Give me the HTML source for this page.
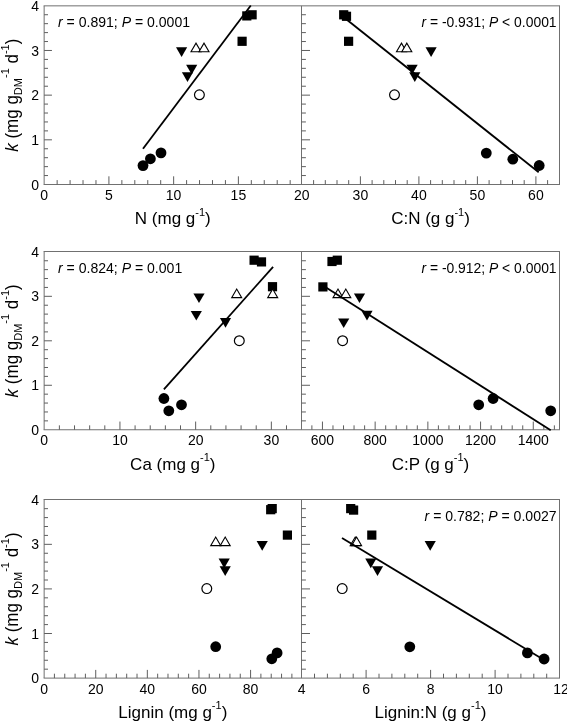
<!DOCTYPE html>
<html lang="en"><head><meta charset="utf-8"><title>Figure</title>
<style>html,body{margin:0;padding:0;background:#fff}svg{display:block}</style></head>
<body>
<svg width="567" height="723" viewBox="0 0 567 723" font-family="Liberation Sans, sans-serif" fill="#000">
<rect width="567" height="723" fill="#fff"/>
<g>
<line x1="43.65" y1="5.85" x2="560.00" y2="5.85" stroke="#707070" stroke-width="1"/>
<line x1="43.65" y1="184.50" x2="560.00" y2="184.50" stroke="#707070" stroke-width="1"/>
<line x1="44.15" y1="5.85" x2="44.15" y2="184.50" stroke="#707070" stroke-width="1"/>
<line x1="301.50" y1="5.85" x2="301.50" y2="184.50" stroke="#707070" stroke-width="1"/>
<line x1="559.50" y1="5.85" x2="559.50" y2="184.50" stroke="#707070" stroke-width="1"/>
<line x1="44.15" y1="175.56" x2="48.00" y2="175.56" stroke="#5e5e5e" stroke-width="1"/>
<line x1="44.15" y1="166.63" x2="48.00" y2="166.63" stroke="#5e5e5e" stroke-width="1"/>
<line x1="44.15" y1="157.69" x2="48.00" y2="157.69" stroke="#5e5e5e" stroke-width="1"/>
<line x1="44.15" y1="148.76" x2="48.00" y2="148.76" stroke="#5e5e5e" stroke-width="1"/>
<line x1="44.15" y1="139.82" x2="51.95" y2="139.82" stroke="#5e5e5e" stroke-width="1"/>
<line x1="44.15" y1="130.89" x2="48.00" y2="130.89" stroke="#5e5e5e" stroke-width="1"/>
<line x1="44.15" y1="121.95" x2="48.00" y2="121.95" stroke="#5e5e5e" stroke-width="1"/>
<line x1="44.15" y1="113.02" x2="48.00" y2="113.02" stroke="#5e5e5e" stroke-width="1"/>
<line x1="44.15" y1="104.09" x2="48.00" y2="104.09" stroke="#5e5e5e" stroke-width="1"/>
<line x1="44.15" y1="95.15" x2="51.95" y2="95.15" stroke="#5e5e5e" stroke-width="1"/>
<line x1="44.15" y1="86.22" x2="48.00" y2="86.22" stroke="#5e5e5e" stroke-width="1"/>
<line x1="44.15" y1="77.28" x2="48.00" y2="77.28" stroke="#5e5e5e" stroke-width="1"/>
<line x1="44.15" y1="68.34" x2="48.00" y2="68.34" stroke="#5e5e5e" stroke-width="1"/>
<line x1="44.15" y1="59.41" x2="48.00" y2="59.41" stroke="#5e5e5e" stroke-width="1"/>
<line x1="44.15" y1="50.48" x2="51.95" y2="50.48" stroke="#5e5e5e" stroke-width="1"/>
<line x1="44.15" y1="41.54" x2="48.00" y2="41.54" stroke="#5e5e5e" stroke-width="1"/>
<line x1="44.15" y1="32.60" x2="48.00" y2="32.60" stroke="#5e5e5e" stroke-width="1"/>
<line x1="44.15" y1="23.67" x2="48.00" y2="23.67" stroke="#5e5e5e" stroke-width="1"/>
<line x1="44.15" y1="14.73" x2="48.00" y2="14.73" stroke="#5e5e5e" stroke-width="1"/>
<line x1="301.50" y1="175.56" x2="305.90" y2="175.56" stroke="#5e5e5e" stroke-width="1"/>
<line x1="301.50" y1="166.63" x2="305.90" y2="166.63" stroke="#5e5e5e" stroke-width="1"/>
<line x1="301.50" y1="157.69" x2="305.90" y2="157.69" stroke="#5e5e5e" stroke-width="1"/>
<line x1="301.50" y1="148.76" x2="305.90" y2="148.76" stroke="#5e5e5e" stroke-width="1"/>
<line x1="301.50" y1="139.82" x2="310.00" y2="139.82" stroke="#5e5e5e" stroke-width="1"/>
<line x1="301.50" y1="130.89" x2="305.90" y2="130.89" stroke="#5e5e5e" stroke-width="1"/>
<line x1="301.50" y1="121.95" x2="305.90" y2="121.95" stroke="#5e5e5e" stroke-width="1"/>
<line x1="301.50" y1="113.02" x2="305.90" y2="113.02" stroke="#5e5e5e" stroke-width="1"/>
<line x1="301.50" y1="104.09" x2="305.90" y2="104.09" stroke="#5e5e5e" stroke-width="1"/>
<line x1="301.50" y1="95.15" x2="310.00" y2="95.15" stroke="#5e5e5e" stroke-width="1"/>
<line x1="301.50" y1="86.22" x2="305.90" y2="86.22" stroke="#5e5e5e" stroke-width="1"/>
<line x1="301.50" y1="77.28" x2="305.90" y2="77.28" stroke="#5e5e5e" stroke-width="1"/>
<line x1="301.50" y1="68.34" x2="305.90" y2="68.34" stroke="#5e5e5e" stroke-width="1"/>
<line x1="301.50" y1="59.41" x2="305.90" y2="59.41" stroke="#5e5e5e" stroke-width="1"/>
<line x1="301.50" y1="50.48" x2="310.00" y2="50.48" stroke="#5e5e5e" stroke-width="1"/>
<line x1="301.50" y1="41.54" x2="305.90" y2="41.54" stroke="#5e5e5e" stroke-width="1"/>
<line x1="301.50" y1="32.60" x2="305.90" y2="32.60" stroke="#5e5e5e" stroke-width="1"/>
<line x1="301.50" y1="23.67" x2="305.90" y2="23.67" stroke="#5e5e5e" stroke-width="1"/>
<line x1="301.50" y1="14.73" x2="305.90" y2="14.73" stroke="#5e5e5e" stroke-width="1"/>
<line x1="57.15" y1="184.50" x2="57.15" y2="180.10" stroke="#5e5e5e" stroke-width="1"/>
<line x1="70.09" y1="184.50" x2="70.09" y2="180.10" stroke="#5e5e5e" stroke-width="1"/>
<line x1="83.03" y1="184.50" x2="83.03" y2="180.10" stroke="#5e5e5e" stroke-width="1"/>
<line x1="95.98" y1="184.50" x2="95.98" y2="180.10" stroke="#5e5e5e" stroke-width="1"/>
<line x1="108.92" y1="184.50" x2="108.92" y2="176.30" stroke="#5e5e5e" stroke-width="1"/>
<line x1="121.87" y1="184.50" x2="121.87" y2="180.10" stroke="#5e5e5e" stroke-width="1"/>
<line x1="134.81" y1="184.50" x2="134.81" y2="180.10" stroke="#5e5e5e" stroke-width="1"/>
<line x1="147.76" y1="184.50" x2="147.76" y2="180.10" stroke="#5e5e5e" stroke-width="1"/>
<line x1="160.70" y1="184.50" x2="160.70" y2="180.10" stroke="#5e5e5e" stroke-width="1"/>
<line x1="173.65" y1="184.50" x2="173.65" y2="176.30" stroke="#5e5e5e" stroke-width="1"/>
<line x1="186.60" y1="184.50" x2="186.60" y2="180.10" stroke="#5e5e5e" stroke-width="1"/>
<line x1="199.54" y1="184.50" x2="199.54" y2="180.10" stroke="#5e5e5e" stroke-width="1"/>
<line x1="212.49" y1="184.50" x2="212.49" y2="180.10" stroke="#5e5e5e" stroke-width="1"/>
<line x1="225.43" y1="184.50" x2="225.43" y2="180.10" stroke="#5e5e5e" stroke-width="1"/>
<line x1="238.38" y1="184.50" x2="238.38" y2="176.30" stroke="#5e5e5e" stroke-width="1"/>
<line x1="251.32" y1="184.50" x2="251.32" y2="180.10" stroke="#5e5e5e" stroke-width="1"/>
<line x1="264.26" y1="184.50" x2="264.26" y2="180.10" stroke="#5e5e5e" stroke-width="1"/>
<line x1="277.21" y1="184.50" x2="277.21" y2="180.10" stroke="#5e5e5e" stroke-width="1"/>
<line x1="290.16" y1="184.50" x2="290.16" y2="180.10" stroke="#5e5e5e" stroke-width="1"/>
<line x1="313.60" y1="184.50" x2="313.60" y2="180.10" stroke="#5e5e5e" stroke-width="1"/>
<line x1="325.30" y1="184.50" x2="325.30" y2="180.10" stroke="#5e5e5e" stroke-width="1"/>
<line x1="337.00" y1="184.50" x2="337.00" y2="180.10" stroke="#5e5e5e" stroke-width="1"/>
<line x1="348.70" y1="184.50" x2="348.70" y2="180.10" stroke="#5e5e5e" stroke-width="1"/>
<line x1="360.40" y1="184.50" x2="360.40" y2="176.30" stroke="#5e5e5e" stroke-width="1"/>
<line x1="372.10" y1="184.50" x2="372.10" y2="180.10" stroke="#5e5e5e" stroke-width="1"/>
<line x1="383.80" y1="184.50" x2="383.80" y2="180.10" stroke="#5e5e5e" stroke-width="1"/>
<line x1="395.50" y1="184.50" x2="395.50" y2="180.10" stroke="#5e5e5e" stroke-width="1"/>
<line x1="407.20" y1="184.50" x2="407.20" y2="180.10" stroke="#5e5e5e" stroke-width="1"/>
<line x1="418.90" y1="184.50" x2="418.90" y2="176.30" stroke="#5e5e5e" stroke-width="1"/>
<line x1="430.60" y1="184.50" x2="430.60" y2="180.10" stroke="#5e5e5e" stroke-width="1"/>
<line x1="442.30" y1="184.50" x2="442.30" y2="180.10" stroke="#5e5e5e" stroke-width="1"/>
<line x1="454.00" y1="184.50" x2="454.00" y2="180.10" stroke="#5e5e5e" stroke-width="1"/>
<line x1="465.70" y1="184.50" x2="465.70" y2="180.10" stroke="#5e5e5e" stroke-width="1"/>
<line x1="477.40" y1="184.50" x2="477.40" y2="176.30" stroke="#5e5e5e" stroke-width="1"/>
<line x1="489.10" y1="184.50" x2="489.10" y2="180.10" stroke="#5e5e5e" stroke-width="1"/>
<line x1="500.80" y1="184.50" x2="500.80" y2="180.10" stroke="#5e5e5e" stroke-width="1"/>
<line x1="512.50" y1="184.50" x2="512.50" y2="180.10" stroke="#5e5e5e" stroke-width="1"/>
<line x1="524.20" y1="184.50" x2="524.20" y2="180.10" stroke="#5e5e5e" stroke-width="1"/>
<line x1="535.90" y1="184.50" x2="535.90" y2="176.30" stroke="#5e5e5e" stroke-width="1"/>
<line x1="547.60" y1="184.50" x2="547.60" y2="180.10" stroke="#5e5e5e" stroke-width="1"/>
</g>
<text x="44.2" y="199.5" font-size="14" text-anchor="middle">0</text>
<text x="108.9" y="199.5" font-size="14" text-anchor="middle">5</text>
<text x="173.6" y="199.5" font-size="14" text-anchor="middle">10</text>
<text x="238.4" y="199.5" font-size="14" text-anchor="middle">15</text>
<text x="301.7" y="199.5" font-size="14" text-anchor="middle">20</text>
<text x="360.4" y="199.5" font-size="14" text-anchor="middle">30</text>
<text x="418.9" y="199.5" font-size="14" text-anchor="middle">40</text>
<text x="477.4" y="199.5" font-size="14" text-anchor="middle">50</text>
<text x="535.9" y="199.5" font-size="14" text-anchor="middle">60</text>
<text x="39.1" y="189.6" font-size="14" text-anchor="end">0</text>
<text x="39.1" y="144.9" font-size="14" text-anchor="end">1</text>
<text x="39.1" y="100.2" font-size="14" text-anchor="end">2</text>
<text x="39.1" y="55.6" font-size="14" text-anchor="end">3</text>
<text x="39.1" y="10.9" font-size="14" text-anchor="end">4</text>
<text transform="translate(17.6,95.2) rotate(-90) scale(1,1.04)" font-size="17" text-anchor="middle"><tspan font-style="italic">k</tspan> (mg g<tspan font-size="11" dy="4.5">DM</tspan><tspan font-size="11" dy="-12.6">-1</tspan><tspan dy="8.1"> d</tspan><tspan font-size="11" dy="-8.1">-1</tspan><tspan dy="8.1">)</tspan></text>
<text x="172.8" y="224.4" font-size="17" text-anchor="middle">N (mg g<tspan font-size="11" dy="-8.8">-1</tspan><tspan dy="8.8">)</tspan></text>
<text x="430.5" y="224.4" font-size="17" text-anchor="middle">C:N (g g<tspan font-size="11" dy="-8.8">-1</tspan><tspan dy="8.8">)</tspan></text>
<text x="58" y="26.7" font-size="14.05"><tspan font-style="italic">r</tspan> = 0.891; <tspan font-style="italic">P</tspan> = 0.0001</text>
<text x="556.6" y="26.7" font-size="13.9" text-anchor="end"><tspan font-style="italic">r</tspan> = -0.931; <tspan font-style="italic">P</tspan> &lt; 0.0001</text>
<circle cx="143" cy="165.6" r="5.4"/>
<circle cx="150.4" cy="158.8" r="5.4"/>
<circle cx="161" cy="152.9" r="5.4"/>
<rect x="242.2" y="11.3" width="9.2" height="9.2"/>
<rect x="247.5" y="10.2" width="9.2" height="9.2"/>
<rect x="237.5" y="36.7" width="9.2" height="9.2"/>
<path d="M176.0 47.3h11.2l-5.6 9.7z"/>
<path d="M186.1 64.7h11.2l-5.6 9.7z"/>
<path d="M181.9 72.2h11.2l-5.6 9.7z"/>
<circle cx="199.4" cy="94.8" r="4.9" fill="#fff" stroke="#000" stroke-width="1.2"/>
<path d="M191.0 51.8h10l-5 -8.6z" fill="#fff" stroke="#000" stroke-width="1.1" stroke-linejoin="miter"/>
<path d="M199.0 51.8h10l-5 -8.6z" fill="#fff" stroke="#000" stroke-width="1.1" stroke-linejoin="miter"/>
<line x1="143" y1="148.8" x2="250.8" y2="5.5" stroke="#000" stroke-width="1.8"/>
<circle cx="486.3" cy="153.1" r="5.4"/>
<circle cx="512.8" cy="159.2" r="5.4"/>
<circle cx="539.2" cy="165.5" r="5.4"/>
<rect x="339.1" y="10.2" width="9.2" height="9.2"/>
<rect x="341.9" y="11.7" width="9.2" height="9.2"/>
<rect x="344.0" y="36.7" width="9.2" height="9.2"/>
<path d="M425.5 47.3h11.2l-5.6 9.7z"/>
<path d="M406.5 64.7h11.2l-5.6 9.7z"/>
<path d="M409.2 72.3h11.2l-5.6 9.7z"/>
<circle cx="394.5" cy="94.8" r="4.9" fill="#fff" stroke="#000" stroke-width="1.2"/>
<path d="M396.5 51.8h10l-5 -8.6z" fill="#fff" stroke="#000" stroke-width="1.1" stroke-linejoin="miter"/>
<path d="M401.8 51.8h10l-5 -8.6z" fill="#fff" stroke="#000" stroke-width="1.1" stroke-linejoin="miter"/>
<line x1="345" y1="18.3" x2="538.7" y2="172.3" stroke="#000" stroke-width="1.8"/>
<g>
<line x1="43.65" y1="251.50" x2="560.00" y2="251.50" stroke="#707070" stroke-width="1"/>
<line x1="43.65" y1="429.75" x2="560.00" y2="429.75" stroke="#707070" stroke-width="1"/>
<line x1="44.15" y1="251.50" x2="44.15" y2="429.75" stroke="#707070" stroke-width="1"/>
<line x1="301.50" y1="251.50" x2="301.50" y2="429.75" stroke="#707070" stroke-width="1"/>
<line x1="559.50" y1="251.50" x2="559.50" y2="429.75" stroke="#707070" stroke-width="1"/>
<line x1="44.15" y1="420.86" x2="48.00" y2="420.86" stroke="#5e5e5e" stroke-width="1"/>
<line x1="44.15" y1="411.96" x2="48.00" y2="411.96" stroke="#5e5e5e" stroke-width="1"/>
<line x1="44.15" y1="403.06" x2="48.00" y2="403.06" stroke="#5e5e5e" stroke-width="1"/>
<line x1="44.15" y1="394.17" x2="48.00" y2="394.17" stroke="#5e5e5e" stroke-width="1"/>
<line x1="44.15" y1="385.27" x2="51.95" y2="385.27" stroke="#5e5e5e" stroke-width="1"/>
<line x1="44.15" y1="376.38" x2="48.00" y2="376.38" stroke="#5e5e5e" stroke-width="1"/>
<line x1="44.15" y1="367.49" x2="48.00" y2="367.49" stroke="#5e5e5e" stroke-width="1"/>
<line x1="44.15" y1="358.59" x2="48.00" y2="358.59" stroke="#5e5e5e" stroke-width="1"/>
<line x1="44.15" y1="349.69" x2="48.00" y2="349.69" stroke="#5e5e5e" stroke-width="1"/>
<line x1="44.15" y1="340.80" x2="51.95" y2="340.80" stroke="#5e5e5e" stroke-width="1"/>
<line x1="44.15" y1="331.90" x2="48.00" y2="331.90" stroke="#5e5e5e" stroke-width="1"/>
<line x1="44.15" y1="323.01" x2="48.00" y2="323.01" stroke="#5e5e5e" stroke-width="1"/>
<line x1="44.15" y1="314.12" x2="48.00" y2="314.12" stroke="#5e5e5e" stroke-width="1"/>
<line x1="44.15" y1="305.22" x2="48.00" y2="305.22" stroke="#5e5e5e" stroke-width="1"/>
<line x1="44.15" y1="296.32" x2="51.95" y2="296.32" stroke="#5e5e5e" stroke-width="1"/>
<line x1="44.15" y1="287.43" x2="48.00" y2="287.43" stroke="#5e5e5e" stroke-width="1"/>
<line x1="44.15" y1="278.53" x2="48.00" y2="278.53" stroke="#5e5e5e" stroke-width="1"/>
<line x1="44.15" y1="269.64" x2="48.00" y2="269.64" stroke="#5e5e5e" stroke-width="1"/>
<line x1="44.15" y1="260.75" x2="48.00" y2="260.75" stroke="#5e5e5e" stroke-width="1"/>
<line x1="301.50" y1="420.86" x2="305.90" y2="420.86" stroke="#5e5e5e" stroke-width="1"/>
<line x1="301.50" y1="411.96" x2="305.90" y2="411.96" stroke="#5e5e5e" stroke-width="1"/>
<line x1="301.50" y1="403.06" x2="305.90" y2="403.06" stroke="#5e5e5e" stroke-width="1"/>
<line x1="301.50" y1="394.17" x2="305.90" y2="394.17" stroke="#5e5e5e" stroke-width="1"/>
<line x1="301.50" y1="385.27" x2="310.00" y2="385.27" stroke="#5e5e5e" stroke-width="1"/>
<line x1="301.50" y1="376.38" x2="305.90" y2="376.38" stroke="#5e5e5e" stroke-width="1"/>
<line x1="301.50" y1="367.49" x2="305.90" y2="367.49" stroke="#5e5e5e" stroke-width="1"/>
<line x1="301.50" y1="358.59" x2="305.90" y2="358.59" stroke="#5e5e5e" stroke-width="1"/>
<line x1="301.50" y1="349.69" x2="305.90" y2="349.69" stroke="#5e5e5e" stroke-width="1"/>
<line x1="301.50" y1="340.80" x2="310.00" y2="340.80" stroke="#5e5e5e" stroke-width="1"/>
<line x1="301.50" y1="331.90" x2="305.90" y2="331.90" stroke="#5e5e5e" stroke-width="1"/>
<line x1="301.50" y1="323.01" x2="305.90" y2="323.01" stroke="#5e5e5e" stroke-width="1"/>
<line x1="301.50" y1="314.12" x2="305.90" y2="314.12" stroke="#5e5e5e" stroke-width="1"/>
<line x1="301.50" y1="305.22" x2="305.90" y2="305.22" stroke="#5e5e5e" stroke-width="1"/>
<line x1="301.50" y1="296.32" x2="310.00" y2="296.32" stroke="#5e5e5e" stroke-width="1"/>
<line x1="301.50" y1="287.43" x2="305.90" y2="287.43" stroke="#5e5e5e" stroke-width="1"/>
<line x1="301.50" y1="278.53" x2="305.90" y2="278.53" stroke="#5e5e5e" stroke-width="1"/>
<line x1="301.50" y1="269.64" x2="305.90" y2="269.64" stroke="#5e5e5e" stroke-width="1"/>
<line x1="301.50" y1="260.75" x2="305.90" y2="260.75" stroke="#5e5e5e" stroke-width="1"/>
<line x1="59.39" y1="429.75" x2="59.39" y2="425.35" stroke="#5e5e5e" stroke-width="1"/>
<line x1="74.53" y1="429.75" x2="74.53" y2="425.35" stroke="#5e5e5e" stroke-width="1"/>
<line x1="89.67" y1="429.75" x2="89.67" y2="425.35" stroke="#5e5e5e" stroke-width="1"/>
<line x1="104.81" y1="429.75" x2="104.81" y2="425.35" stroke="#5e5e5e" stroke-width="1"/>
<line x1="119.95" y1="429.75" x2="119.95" y2="421.55" stroke="#5e5e5e" stroke-width="1"/>
<line x1="135.09" y1="429.75" x2="135.09" y2="425.35" stroke="#5e5e5e" stroke-width="1"/>
<line x1="150.23" y1="429.75" x2="150.23" y2="425.35" stroke="#5e5e5e" stroke-width="1"/>
<line x1="165.37" y1="429.75" x2="165.37" y2="425.35" stroke="#5e5e5e" stroke-width="1"/>
<line x1="180.51" y1="429.75" x2="180.51" y2="425.35" stroke="#5e5e5e" stroke-width="1"/>
<line x1="195.65" y1="429.75" x2="195.65" y2="421.55" stroke="#5e5e5e" stroke-width="1"/>
<line x1="210.79" y1="429.75" x2="210.79" y2="425.35" stroke="#5e5e5e" stroke-width="1"/>
<line x1="225.93" y1="429.75" x2="225.93" y2="425.35" stroke="#5e5e5e" stroke-width="1"/>
<line x1="241.07" y1="429.75" x2="241.07" y2="425.35" stroke="#5e5e5e" stroke-width="1"/>
<line x1="256.21" y1="429.75" x2="256.21" y2="425.35" stroke="#5e5e5e" stroke-width="1"/>
<line x1="271.35" y1="429.75" x2="271.35" y2="421.55" stroke="#5e5e5e" stroke-width="1"/>
<line x1="286.49" y1="429.75" x2="286.49" y2="425.35" stroke="#5e5e5e" stroke-width="1"/>
<line x1="311.89" y1="429.75" x2="311.89" y2="425.35" stroke="#5e5e5e" stroke-width="1"/>
<line x1="322.44" y1="429.75" x2="322.44" y2="421.55" stroke="#5e5e5e" stroke-width="1"/>
<line x1="332.98" y1="429.75" x2="332.98" y2="425.35" stroke="#5e5e5e" stroke-width="1"/>
<line x1="343.52" y1="429.75" x2="343.52" y2="425.35" stroke="#5e5e5e" stroke-width="1"/>
<line x1="354.06" y1="429.75" x2="354.06" y2="425.35" stroke="#5e5e5e" stroke-width="1"/>
<line x1="364.61" y1="429.75" x2="364.61" y2="425.35" stroke="#5e5e5e" stroke-width="1"/>
<line x1="375.15" y1="429.75" x2="375.15" y2="421.55" stroke="#5e5e5e" stroke-width="1"/>
<line x1="385.69" y1="429.75" x2="385.69" y2="425.35" stroke="#5e5e5e" stroke-width="1"/>
<line x1="396.23" y1="429.75" x2="396.23" y2="425.35" stroke="#5e5e5e" stroke-width="1"/>
<line x1="406.78" y1="429.75" x2="406.78" y2="425.35" stroke="#5e5e5e" stroke-width="1"/>
<line x1="417.32" y1="429.75" x2="417.32" y2="425.35" stroke="#5e5e5e" stroke-width="1"/>
<line x1="427.86" y1="429.75" x2="427.86" y2="421.55" stroke="#5e5e5e" stroke-width="1"/>
<line x1="438.40" y1="429.75" x2="438.40" y2="425.35" stroke="#5e5e5e" stroke-width="1"/>
<line x1="448.94" y1="429.75" x2="448.94" y2="425.35" stroke="#5e5e5e" stroke-width="1"/>
<line x1="459.49" y1="429.75" x2="459.49" y2="425.35" stroke="#5e5e5e" stroke-width="1"/>
<line x1="470.03" y1="429.75" x2="470.03" y2="425.35" stroke="#5e5e5e" stroke-width="1"/>
<line x1="480.57" y1="429.75" x2="480.57" y2="421.55" stroke="#5e5e5e" stroke-width="1"/>
<line x1="491.11" y1="429.75" x2="491.11" y2="425.35" stroke="#5e5e5e" stroke-width="1"/>
<line x1="501.66" y1="429.75" x2="501.66" y2="425.35" stroke="#5e5e5e" stroke-width="1"/>
<line x1="512.20" y1="429.75" x2="512.20" y2="425.35" stroke="#5e5e5e" stroke-width="1"/>
<line x1="522.74" y1="429.75" x2="522.74" y2="425.35" stroke="#5e5e5e" stroke-width="1"/>
<line x1="533.28" y1="429.75" x2="533.28" y2="421.55" stroke="#5e5e5e" stroke-width="1"/>
<line x1="543.83" y1="429.75" x2="543.83" y2="425.35" stroke="#5e5e5e" stroke-width="1"/>
<line x1="554.37" y1="429.75" x2="554.37" y2="425.35" stroke="#5e5e5e" stroke-width="1"/>
</g>
<text x="44.2" y="445.4" font-size="14" text-anchor="middle">0</text>
<text x="120.0" y="445.4" font-size="14" text-anchor="middle">10</text>
<text x="195.7" y="445.4" font-size="14" text-anchor="middle">20</text>
<text x="271.4" y="445.4" font-size="14" text-anchor="middle">30</text>
<text x="322.4" y="445.4" font-size="14" text-anchor="middle">600</text>
<text x="375.1" y="445.4" font-size="14" text-anchor="middle">800</text>
<text x="427.9" y="445.4" font-size="14" text-anchor="middle">1000</text>
<text x="480.6" y="445.4" font-size="14" text-anchor="middle">1200</text>
<text x="533.3" y="445.4" font-size="14" text-anchor="middle">1400</text>
<text x="39.1" y="434.9" font-size="14" text-anchor="end">0</text>
<text x="39.1" y="390.4" font-size="14" text-anchor="end">1</text>
<text x="39.1" y="345.9" font-size="14" text-anchor="end">2</text>
<text x="39.1" y="301.4" font-size="14" text-anchor="end">3</text>
<text x="39.1" y="256.9" font-size="14" text-anchor="end">4</text>
<text transform="translate(17.6,340.8) rotate(-90) scale(1,1.04)" font-size="17" text-anchor="middle"><tspan font-style="italic">k</tspan> (mg g<tspan font-size="11" dy="4.5">DM</tspan><tspan font-size="11" dy="-12.6">-1</tspan><tspan dy="8.1"> d</tspan><tspan font-size="11" dy="-8.1">-1</tspan><tspan dy="8.1">)</tspan></text>
<text x="172.8" y="469.6" font-size="17" text-anchor="middle">Ca (mg g<tspan font-size="11" dy="-8.8">-1</tspan><tspan dy="8.8">)</tspan></text>
<text x="430.5" y="469.6" font-size="17" text-anchor="middle">C:P (g g<tspan font-size="11" dy="-8.8">-1</tspan><tspan dy="8.8">)</tspan></text>
<text x="58" y="272.7" font-size="14.05"><tspan font-style="italic">r</tspan> = 0.824; <tspan font-style="italic">P</tspan> = 0.001</text>
<text x="556.6" y="272.7" font-size="13.9" text-anchor="end"><tspan font-style="italic">r</tspan> = -0.912; <tspan font-style="italic">P</tspan> &lt; 0.0001</text>
<circle cx="163.9" cy="398.5" r="5.4"/>
<circle cx="168.8" cy="410.8" r="5.4"/>
<circle cx="181.5" cy="404.8" r="5.4"/>
<rect x="249.5" y="255.6" width="9.2" height="9.2"/>
<rect x="256.9" y="257.3" width="9.2" height="9.2"/>
<rect x="267.9" y="282.1" width="9.2" height="9.2"/>
<path d="M193.4 293.4h11.2l-5.6 9.7z"/>
<path d="M190.7 310.9h11.2l-5.6 9.7z"/>
<path d="M219.9 318.1h11.2l-5.6 9.7z"/>
<circle cx="239.3" cy="340.7" r="4.9" fill="#fff" stroke="#000" stroke-width="1.2"/>
<path d="M231.7 297.6h10l-5 -8.6z" fill="#fff" stroke="#000" stroke-width="1.1" stroke-linejoin="miter"/>
<path d="M267.7 297.6h10l-5 -8.6z" fill="#fff" stroke="#000" stroke-width="1.1" stroke-linejoin="miter"/>
<line x1="163.9" y1="389.4" x2="273.1" y2="266.8" stroke="#000" stroke-width="1.8"/>
<circle cx="478.7" cy="404.8" r="5.4"/>
<circle cx="493.1" cy="398.5" r="5.4"/>
<circle cx="550.7" cy="410.8" r="5.4"/>
<rect x="327.4" y="256.9" width="9.2" height="9.2"/>
<rect x="332.7" y="255.6" width="9.2" height="9.2"/>
<rect x="318.3" y="282.3" width="9.2" height="9.2"/>
<path d="M353.9 293.4h11.2l-5.6 9.7z"/>
<path d="M361.4 310.7h11.2l-5.6 9.7z"/>
<path d="M338.1 318.4h11.2l-5.6 9.7z"/>
<circle cx="342.6" cy="340.7" r="4.9" fill="#fff" stroke="#000" stroke-width="1.2"/>
<path d="M333.0 297.6h10l-5 -8.6z" fill="#fff" stroke="#000" stroke-width="1.1" stroke-linejoin="miter"/>
<path d="M340.8 297.6h10l-5 -8.6z" fill="#fff" stroke="#000" stroke-width="1.1" stroke-linejoin="miter"/>
<line x1="322.9" y1="285.5" x2="550.7" y2="430.2" stroke="#000" stroke-width="1.8"/>
<g>
<line x1="43.65" y1="499.50" x2="560.00" y2="499.50" stroke="#707070" stroke-width="1"/>
<line x1="43.65" y1="678.10" x2="560.00" y2="678.10" stroke="#707070" stroke-width="1"/>
<line x1="44.15" y1="499.50" x2="44.15" y2="678.10" stroke="#707070" stroke-width="1"/>
<line x1="301.50" y1="499.50" x2="301.50" y2="678.10" stroke="#707070" stroke-width="1"/>
<line x1="559.50" y1="499.50" x2="559.50" y2="678.10" stroke="#707070" stroke-width="1"/>
<line x1="44.15" y1="669.18" x2="48.00" y2="669.18" stroke="#5e5e5e" stroke-width="1"/>
<line x1="44.15" y1="660.26" x2="48.00" y2="660.26" stroke="#5e5e5e" stroke-width="1"/>
<line x1="44.15" y1="651.35" x2="48.00" y2="651.35" stroke="#5e5e5e" stroke-width="1"/>
<line x1="44.15" y1="642.43" x2="48.00" y2="642.43" stroke="#5e5e5e" stroke-width="1"/>
<line x1="44.15" y1="633.51" x2="51.95" y2="633.51" stroke="#5e5e5e" stroke-width="1"/>
<line x1="44.15" y1="624.60" x2="48.00" y2="624.60" stroke="#5e5e5e" stroke-width="1"/>
<line x1="44.15" y1="615.68" x2="48.00" y2="615.68" stroke="#5e5e5e" stroke-width="1"/>
<line x1="44.15" y1="606.76" x2="48.00" y2="606.76" stroke="#5e5e5e" stroke-width="1"/>
<line x1="44.15" y1="597.84" x2="48.00" y2="597.84" stroke="#5e5e5e" stroke-width="1"/>
<line x1="44.15" y1="588.92" x2="51.95" y2="588.92" stroke="#5e5e5e" stroke-width="1"/>
<line x1="44.15" y1="580.01" x2="48.00" y2="580.01" stroke="#5e5e5e" stroke-width="1"/>
<line x1="44.15" y1="571.09" x2="48.00" y2="571.09" stroke="#5e5e5e" stroke-width="1"/>
<line x1="44.15" y1="562.17" x2="48.00" y2="562.17" stroke="#5e5e5e" stroke-width="1"/>
<line x1="44.15" y1="553.25" x2="48.00" y2="553.25" stroke="#5e5e5e" stroke-width="1"/>
<line x1="44.15" y1="544.34" x2="51.95" y2="544.34" stroke="#5e5e5e" stroke-width="1"/>
<line x1="44.15" y1="535.42" x2="48.00" y2="535.42" stroke="#5e5e5e" stroke-width="1"/>
<line x1="44.15" y1="526.50" x2="48.00" y2="526.50" stroke="#5e5e5e" stroke-width="1"/>
<line x1="44.15" y1="517.59" x2="48.00" y2="517.59" stroke="#5e5e5e" stroke-width="1"/>
<line x1="44.15" y1="508.67" x2="48.00" y2="508.67" stroke="#5e5e5e" stroke-width="1"/>
<line x1="301.50" y1="669.18" x2="305.90" y2="669.18" stroke="#5e5e5e" stroke-width="1"/>
<line x1="301.50" y1="660.26" x2="305.90" y2="660.26" stroke="#5e5e5e" stroke-width="1"/>
<line x1="301.50" y1="651.35" x2="305.90" y2="651.35" stroke="#5e5e5e" stroke-width="1"/>
<line x1="301.50" y1="642.43" x2="305.90" y2="642.43" stroke="#5e5e5e" stroke-width="1"/>
<line x1="301.50" y1="633.51" x2="310.00" y2="633.51" stroke="#5e5e5e" stroke-width="1"/>
<line x1="301.50" y1="624.60" x2="305.90" y2="624.60" stroke="#5e5e5e" stroke-width="1"/>
<line x1="301.50" y1="615.68" x2="305.90" y2="615.68" stroke="#5e5e5e" stroke-width="1"/>
<line x1="301.50" y1="606.76" x2="305.90" y2="606.76" stroke="#5e5e5e" stroke-width="1"/>
<line x1="301.50" y1="597.84" x2="305.90" y2="597.84" stroke="#5e5e5e" stroke-width="1"/>
<line x1="301.50" y1="588.92" x2="310.00" y2="588.92" stroke="#5e5e5e" stroke-width="1"/>
<line x1="301.50" y1="580.01" x2="305.90" y2="580.01" stroke="#5e5e5e" stroke-width="1"/>
<line x1="301.50" y1="571.09" x2="305.90" y2="571.09" stroke="#5e5e5e" stroke-width="1"/>
<line x1="301.50" y1="562.17" x2="305.90" y2="562.17" stroke="#5e5e5e" stroke-width="1"/>
<line x1="301.50" y1="553.25" x2="305.90" y2="553.25" stroke="#5e5e5e" stroke-width="1"/>
<line x1="301.50" y1="544.34" x2="310.00" y2="544.34" stroke="#5e5e5e" stroke-width="1"/>
<line x1="301.50" y1="535.42" x2="305.90" y2="535.42" stroke="#5e5e5e" stroke-width="1"/>
<line x1="301.50" y1="526.50" x2="305.90" y2="526.50" stroke="#5e5e5e" stroke-width="1"/>
<line x1="301.50" y1="517.59" x2="305.90" y2="517.59" stroke="#5e5e5e" stroke-width="1"/>
<line x1="301.50" y1="508.67" x2="305.90" y2="508.67" stroke="#5e5e5e" stroke-width="1"/>
<line x1="54.42" y1="678.10" x2="54.42" y2="673.70" stroke="#5e5e5e" stroke-width="1"/>
<line x1="64.75" y1="678.10" x2="64.75" y2="673.70" stroke="#5e5e5e" stroke-width="1"/>
<line x1="75.07" y1="678.10" x2="75.07" y2="673.70" stroke="#5e5e5e" stroke-width="1"/>
<line x1="85.40" y1="678.10" x2="85.40" y2="673.70" stroke="#5e5e5e" stroke-width="1"/>
<line x1="95.72" y1="678.10" x2="95.72" y2="669.90" stroke="#5e5e5e" stroke-width="1"/>
<line x1="106.04" y1="678.10" x2="106.04" y2="673.70" stroke="#5e5e5e" stroke-width="1"/>
<line x1="116.37" y1="678.10" x2="116.37" y2="673.70" stroke="#5e5e5e" stroke-width="1"/>
<line x1="126.69" y1="678.10" x2="126.69" y2="673.70" stroke="#5e5e5e" stroke-width="1"/>
<line x1="137.02" y1="678.10" x2="137.02" y2="673.70" stroke="#5e5e5e" stroke-width="1"/>
<line x1="147.34" y1="678.10" x2="147.34" y2="669.90" stroke="#5e5e5e" stroke-width="1"/>
<line x1="157.66" y1="678.10" x2="157.66" y2="673.70" stroke="#5e5e5e" stroke-width="1"/>
<line x1="167.99" y1="678.10" x2="167.99" y2="673.70" stroke="#5e5e5e" stroke-width="1"/>
<line x1="178.31" y1="678.10" x2="178.31" y2="673.70" stroke="#5e5e5e" stroke-width="1"/>
<line x1="188.64" y1="678.10" x2="188.64" y2="673.70" stroke="#5e5e5e" stroke-width="1"/>
<line x1="198.96" y1="678.10" x2="198.96" y2="669.90" stroke="#5e5e5e" stroke-width="1"/>
<line x1="209.28" y1="678.10" x2="209.28" y2="673.70" stroke="#5e5e5e" stroke-width="1"/>
<line x1="219.61" y1="678.10" x2="219.61" y2="673.70" stroke="#5e5e5e" stroke-width="1"/>
<line x1="229.93" y1="678.10" x2="229.93" y2="673.70" stroke="#5e5e5e" stroke-width="1"/>
<line x1="240.26" y1="678.10" x2="240.26" y2="673.70" stroke="#5e5e5e" stroke-width="1"/>
<line x1="250.58" y1="678.10" x2="250.58" y2="669.90" stroke="#5e5e5e" stroke-width="1"/>
<line x1="260.90" y1="678.10" x2="260.90" y2="673.70" stroke="#5e5e5e" stroke-width="1"/>
<line x1="271.23" y1="678.10" x2="271.23" y2="673.70" stroke="#5e5e5e" stroke-width="1"/>
<line x1="281.55" y1="678.10" x2="281.55" y2="673.70" stroke="#5e5e5e" stroke-width="1"/>
<line x1="291.88" y1="678.10" x2="291.88" y2="673.70" stroke="#5e5e5e" stroke-width="1"/>
<line x1="314.50" y1="678.10" x2="314.50" y2="673.70" stroke="#5e5e5e" stroke-width="1"/>
<line x1="327.40" y1="678.10" x2="327.40" y2="673.70" stroke="#5e5e5e" stroke-width="1"/>
<line x1="340.30" y1="678.10" x2="340.30" y2="673.70" stroke="#5e5e5e" stroke-width="1"/>
<line x1="353.20" y1="678.10" x2="353.20" y2="673.70" stroke="#5e5e5e" stroke-width="1"/>
<line x1="366.10" y1="678.10" x2="366.10" y2="669.90" stroke="#5e5e5e" stroke-width="1"/>
<line x1="379.00" y1="678.10" x2="379.00" y2="673.70" stroke="#5e5e5e" stroke-width="1"/>
<line x1="391.90" y1="678.10" x2="391.90" y2="673.70" stroke="#5e5e5e" stroke-width="1"/>
<line x1="404.80" y1="678.10" x2="404.80" y2="673.70" stroke="#5e5e5e" stroke-width="1"/>
<line x1="417.70" y1="678.10" x2="417.70" y2="673.70" stroke="#5e5e5e" stroke-width="1"/>
<line x1="430.60" y1="678.10" x2="430.60" y2="669.90" stroke="#5e5e5e" stroke-width="1"/>
<line x1="443.50" y1="678.10" x2="443.50" y2="673.70" stroke="#5e5e5e" stroke-width="1"/>
<line x1="456.40" y1="678.10" x2="456.40" y2="673.70" stroke="#5e5e5e" stroke-width="1"/>
<line x1="469.30" y1="678.10" x2="469.30" y2="673.70" stroke="#5e5e5e" stroke-width="1"/>
<line x1="482.20" y1="678.10" x2="482.20" y2="673.70" stroke="#5e5e5e" stroke-width="1"/>
<line x1="495.10" y1="678.10" x2="495.10" y2="669.90" stroke="#5e5e5e" stroke-width="1"/>
<line x1="508.00" y1="678.10" x2="508.00" y2="673.70" stroke="#5e5e5e" stroke-width="1"/>
<line x1="520.90" y1="678.10" x2="520.90" y2="673.70" stroke="#5e5e5e" stroke-width="1"/>
<line x1="533.80" y1="678.10" x2="533.80" y2="673.70" stroke="#5e5e5e" stroke-width="1"/>
<line x1="546.70" y1="678.10" x2="546.70" y2="673.70" stroke="#5e5e5e" stroke-width="1"/>
</g>
<text x="44.1" y="694.4" font-size="14" text-anchor="middle">0</text>
<text x="95.7" y="694.4" font-size="14" text-anchor="middle">20</text>
<text x="147.3" y="694.4" font-size="14" text-anchor="middle">40</text>
<text x="199.0" y="694.4" font-size="14" text-anchor="middle">60</text>
<text x="250.6" y="694.4" font-size="14" text-anchor="middle">80</text>
<text x="301.6" y="694.4" font-size="14" text-anchor="middle">4</text>
<text x="366.1" y="694.4" font-size="14" text-anchor="middle">6</text>
<text x="430.6" y="694.4" font-size="14" text-anchor="middle">8</text>
<text x="495.1" y="694.4" font-size="14" text-anchor="middle">10</text>
<text x="561.0" y="694.4" font-size="14" text-anchor="middle">12</text>
<text x="39.1" y="683.2" font-size="14" text-anchor="end">0</text>
<text x="39.1" y="638.6" font-size="14" text-anchor="end">1</text>
<text x="39.1" y="594.0" font-size="14" text-anchor="end">2</text>
<text x="39.1" y="549.4" font-size="14" text-anchor="end">3</text>
<text x="39.1" y="504.9" font-size="14" text-anchor="end">4</text>
<text transform="translate(17.6,589.0) rotate(-90) scale(1,1.04)" font-size="17" text-anchor="middle"><tspan font-style="italic">k</tspan> (mg g<tspan font-size="11" dy="4.5">DM</tspan><tspan font-size="11" dy="-12.6">-1</tspan><tspan dy="8.1"> d</tspan><tspan font-size="11" dy="-8.1">-1</tspan><tspan dy="8.1">)</tspan></text>
<text x="172.8" y="718.0" font-size="17" text-anchor="middle">Lignin (mg g<tspan font-size="11" dy="-8.8">-1</tspan><tspan dy="8.8">)</tspan></text>
<text x="430.5" y="718.0" font-size="17" text-anchor="middle">Lignin:N (g g<tspan font-size="11" dy="-8.8">-1</tspan><tspan dy="8.8">)</tspan></text>
<text x="556.6" y="520.6" font-size="14.05" text-anchor="end"><tspan font-style="italic">r</tspan> = 0.782; <tspan font-style="italic">P</tspan> = 0.0027</text>
<circle cx="215.7" cy="646.7" r="5.4"/>
<circle cx="271.8" cy="658.8" r="5.4"/>
<circle cx="277.1" cy="652.9" r="5.4"/>
<rect x="266.1" y="505.1" width="9.2" height="9.2"/>
<rect x="267.6" y="504.0" width="9.2" height="9.2"/>
<rect x="282.8" y="530.5" width="9.2" height="9.2"/>
<path d="M256.6 541.1h11.2l-5.6 9.7z"/>
<path d="M218.6 558.5h11.2l-5.6 9.7z"/>
<path d="M219.6 566.3h11.2l-5.6 9.7z"/>
<circle cx="206.8" cy="588.6" r="4.9" fill="#fff" stroke="#000" stroke-width="1.2"/>
<path d="M210.7 545.6h10l-5 -8.6z" fill="#fff" stroke="#000" stroke-width="1.1" stroke-linejoin="miter"/>
<path d="M220.2 545.6h10l-5 -8.6z" fill="#fff" stroke="#000" stroke-width="1.1" stroke-linejoin="miter"/>
<circle cx="409.8" cy="646.8" r="5.4"/>
<circle cx="527.4" cy="652.9" r="5.4"/>
<circle cx="544.1" cy="659" r="5.4"/>
<rect x="346.1" y="504.0" width="9.2" height="9.2"/>
<rect x="349.0" y="505.5" width="9.2" height="9.2"/>
<rect x="367.2" y="530.5" width="9.2" height="9.2"/>
<path d="M424.6 541.0h11.2l-5.6 9.7z"/>
<path d="M365.2 558.5h11.2l-5.6 9.7z"/>
<path d="M371.9 566.3h11.2l-5.6 9.7z"/>
<circle cx="342.2" cy="588.6" r="4.9" fill="#fff" stroke="#000" stroke-width="1.2"/>
<path d="M350.2 545.6h10l-5 -8.6z" fill="#fff" stroke="#000" stroke-width="1.1" stroke-linejoin="miter"/>
<path d="M351.6 545.6h10l-5 -8.6z" fill="#fff" stroke="#000" stroke-width="1.1" stroke-linejoin="miter"/>
<line x1="342" y1="538.0" x2="544.1" y2="660.0" stroke="#000" stroke-width="1.8"/>
</svg>
</body></html>
